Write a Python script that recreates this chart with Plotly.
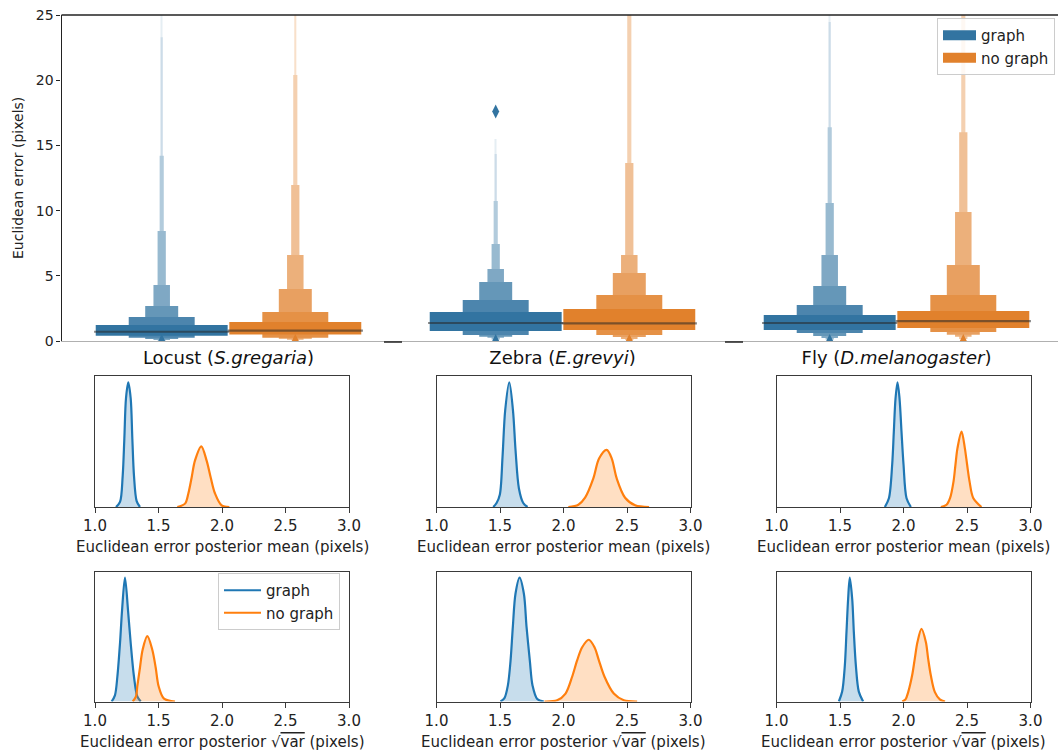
import plotly.graph_objects as go

W, H = 1058, 753
FONT = "DejaVu Sans"

# ---------------- data ----------------
categories = ["Locust", "Zebra", "Fly"]
category_labels = ["Locust (<i>S.gregaria</i>)", "Zebra (<i>E.grevyi</i>)",
                   "Fly (<i>D.melanogaster</i>)"]
hue_names = ["graph", "no graph"]
y_ticks = [0, 5, 10, 15, 20, 25]
kde_ticks = [1.0, 1.5, 2.0, 2.5, 3.0]
kde_tick_labels = ["1.0", "1.5", "2.0", "2.5", "3.0"]

# letter-value boxes, innermost level first (lower / upper bounds)
locust_graph_lower = [0.41, 0.25, 0.15, 0.08, 0.04, 0.02, 0.01, 0.005]
locust_graph_upper = [1.23, 1.84, 2.68, 4.29, 8.44, 14.2, 23.3, 32.0]
locust_graph_median = 0.71
locust_graph_outliers = [0.0]

locust_nograph_lower = [0.49, 0.25, 0.18, 0.10, 0.05, 0.03, 0.02]
locust_nograph_upper = [1.46, 2.22, 3.99, 6.6, 11.96, 20.4, 32.0]
locust_nograph_median = 0.79
locust_nograph_outliers = [0.0]

zebra_graph_lower = [0.77, 0.46, 0.33, 0.25, 0.12, 0.08, 0.05, 0.03]
zebra_graph_upper = [2.22, 3.14, 4.52, 5.52, 7.44, 10.74, 14.34, 15.5]
zebra_graph_median = 1.38
zebra_graph_outliers = [17.6, 0.0]

zebra_nograph_lower = [0.84, 0.46, 0.31, 0.15, 0.08, 0.04]
zebra_nograph_upper = [2.45, 3.53, 5.21, 6.6, 13.65, 32.0]
zebra_nograph_median = 1.35
zebra_nograph_outliers = [0.0]

fly_graph_lower = [0.84, 0.61, 0.38, 0.23, 0.12, 0.06, 0.03, 0.02]
fly_graph_upper = [1.99, 2.76, 4.22, 6.6, 10.58, 16.4, 24.46, 32.0]
fly_graph_median = 1.38
fly_graph_outliers = [0.0]

fly_nograph_lower = [1.0, 0.69, 0.48, 0.33, 0.15, 0.08]
fly_nograph_upper = [2.30, 3.53, 5.83, 9.89, 16.0, 32.0]
fly_nograph_median = 1.53
fly_nograph_outliers = [0.0]

# posterior KDE curves (x, density)
locust_mean_graph_x = [1.165, 1.197, 1.218, 1.231, 1.244, 1.262, 1.281, 1.294, 1.307, 1.328, 1.354]
locust_mean_graph_y = [0, 0.6, 3.7, 8.1, 12.9, 14.8, 12.9, 8.1, 3.7, 0.7, 0]
locust_mean_nograph_x = [1.648, 1.709, 1.735, 1.761, 1.787, 1.837, 1.879, 1.911, 1.945, 1.997, 2.058]
locust_mean_nograph_y = [0, 0.4, 1.6, 3.5, 5.5, 7.2, 5.5, 3.5, 1.6, 0.2, 0]

locust_var_graph_x = [1.131, 1.157, 1.176, 1.197, 1.213, 1.236, 1.260, 1.281, 1.307, 1.333, 1.360]
locust_var_graph_y = [0, 0.55, 2.2, 5.2, 8.1, 11.0, 8.1, 5.2, 2.2, 0.45, 0]
locust_var_nograph_x = [1.297, 1.323, 1.333, 1.354, 1.375, 1.412, 1.451, 1.478, 1.501, 1.543, 1.630]
locust_var_nograph_y = [0, 0.45, 1.35, 3.0, 4.6, 5.8, 4.6, 3.0, 1.35, 0.25, 0]

zebra_mean_graph_x = [1.447, 1.473, 1.499, 1.520, 1.541, 1.573, 1.602, 1.623, 1.649, 1.683, 1.717]
zebra_mean_graph_y = [0, 0.3, 0.95, 3.8, 7.3, 9.4, 7.3, 4.2, 1.4, 0.3, 0]
zebra_mean_nograph_x = [2.038, 2.117, 2.170, 2.235, 2.280, 2.340, 2.380, 2.419, 2.485, 2.564, 2.674]
zebra_mean_nograph_y = [0, 0.17, 0.7, 2.15, 3.65, 4.3, 3.65, 2.15, 0.7, 0.13, 0]

zebra_var_graph_x = [1.504, 1.535, 1.562, 1.583, 1.601, 1.622, 1.654, 1.688, 1.709, 1.735, 1.756, 1.793, 1.845]
zebra_var_graph_y = [0, 0.2, 0.95, 2.4, 4.4, 6.35, 7.3, 6.35, 4.4, 2.4, 0.95, 0.15, 0]
zebra_var_nograph_x = [1.850, 1.950, 2.016, 2.068, 2.108, 2.147, 2.199, 2.244, 2.278, 2.323, 2.396, 2.475, 2.580]
zebra_var_nograph_y = [0, 0.07, 0.47, 1.46, 2.44, 3.2, 3.64, 3.2, 2.44, 1.46, 0.47, 0.07, 0]

fly_mean_graph_x = [1.853, 1.885, 1.911, 1.924, 1.937, 1.953, 1.969, 1.984, 2.000, 2.024, 2.058]
fly_mean_graph_y = [0, 1.0, 4.9, 8.7, 12.4, 14.3, 12.4, 8.7, 4.9, 1.0, 0]
fly_mean_nograph_x = [2.294, 2.339, 2.367, 2.394, 2.409, 2.425, 2.457, 2.483, 2.501, 2.520, 2.549, 2.614]
fly_mean_nograph_y = [0, 0.26, 1.04, 2.94, 4.84, 6.75, 8.65, 6.75, 4.84, 2.94, 1.04, 0]

fly_var_graph_x = [1.491, 1.517, 1.538, 1.551, 1.564, 1.577, 1.596, 1.609, 1.625, 1.648, 1.682]
fly_var_graph_y = [0, 1.2, 4.35, 8.4, 12.45, 15, 12.45, 8.4, 4.35, 1.2, 0]
fly_var_nograph_x = [1.990, 2.016, 2.037, 2.068, 2.089, 2.110, 2.142, 2.176, 2.194, 2.215, 2.247, 2.286, 2.327]
fly_var_nograph_y = [0, 0.26, 1.14, 3.17, 5.2, 7.2, 8.8, 7.2, 5.2, 3.17, 1.14, 0.26, 0]

# ---------------- style ----------------
box_base = [(50, 116, 161), (225, 129, 44)]
line_colors = ["#1f77b4", "#ff7f0e"]
fill_colors = ["rgba(31,119,180,0.25)", "rgba(255,127,14,0.25)"]
HUE_OFFSET = 0.2
BOX_WIDTH = 0.395
N_SHADES = 8


def shade(rgb, k):
    t = k / N_SHADES
    r, g, b = [int(round(c + (255 - c) * t)) for c in rgb]
    return f"rgb({r},{g},{b})"


def px_x(p):
    return p / W


def px_y(p):
    return 1 - p / H


fig = go.Figure()

boxes = [
    (0, 0, locust_graph_lower, locust_graph_upper, locust_graph_median, locust_graph_outliers),
    (0, 1, locust_nograph_lower, locust_nograph_upper, locust_nograph_median, locust_nograph_outliers),
    (1, 0, zebra_graph_lower, zebra_graph_upper, zebra_graph_median, zebra_graph_outliers),
    (1, 1, zebra_nograph_lower, zebra_nograph_upper, zebra_nograph_median, zebra_nograph_outliers),
    (2, 0, fly_graph_lower, fly_graph_upper, fly_graph_median, fly_graph_outliers),
    (2, 1, fly_nograph_lower, fly_nograph_upper, fly_nograph_median, fly_nograph_outliers),
]

for ci, hi, lower, upper, med, outl in boxes:
    pos = ci + (HUE_OFFSET if hi else -HUE_OFFSET)
    n = len(lower)
    order = list(range(n))[::-1]  # outermost (narrow, light) first, innermost on top
    fig.add_trace(go.Bar(
        x=[pos] * n,
        base=[lower[k] for k in order],
        y=[upper[k] - lower[k] for k in order],
        width=[BOX_WIDTH / (2 ** k) for k in order],
        marker=dict(color=[shade(box_base[hi], k) for k in order], line=dict(width=0)),
        showlegend=False, hoverinfo="skip", xaxis="x", yaxis="y",
    ))

for ci, hi, lower, upper, med, outl in boxes:
    pos = ci + (HUE_OFFSET if hi else -HUE_OFFSET)
    fig.add_trace(go.Scatter(
        x=[pos - BOX_WIDTH / 2 - 0.005, pos + BOX_WIDTH / 2 + 0.005], y=[med, med],
        mode="lines", line=dict(color="rgba(40,40,40,0.55)", width=2.2),
        showlegend=False, hoverinfo="skip", xaxis="x", yaxis="y",
    ))
    fig.add_trace(go.Scatter(
        x=[pos] * len(outl), y=outl, mode="markers",
        marker=dict(symbol="diamond-tall", size=10, color="rgb(%d,%d,%d)" % box_base[hi]),
        showlegend=False, hoverinfo="skip", xaxis="x", yaxis="y",
    ))

# legend patches for the top plot
for hi, name in enumerate(hue_names):
    fig.add_trace(go.Scatter(
        x=[None], y=[None], mode="lines", name=name,
        line=dict(color="rgb(%d,%d,%d)" % box_base[hi], width=11),
        xaxis="x", yaxis="y", legend="legend",
    ))

# KDE panels
kde_panels = [
    (2, locust_mean_graph_x, locust_mean_graph_y, locust_mean_nograph_x, locust_mean_nograph_y),
    (3, zebra_mean_graph_x, zebra_mean_graph_y, zebra_mean_nograph_x, zebra_mean_nograph_y),
    (4, fly_mean_graph_x, fly_mean_graph_y, fly_mean_nograph_x, fly_mean_nograph_y),
    (5, locust_var_graph_x, locust_var_graph_y, locust_var_nograph_x, locust_var_nograph_y),
    (6, zebra_var_graph_x, zebra_var_graph_y, zebra_var_nograph_x, zebra_var_nograph_y),
    (7, fly_var_graph_x, fly_var_graph_y, fly_var_nograph_x, fly_var_nograph_y),
]
kde_ymax = {}
for idx, gx, gy, nx, ny in kde_panels:
    kde_ymax[idx] = max(max(gy), max(ny)) * 1.05
    for hi, (xs, ys) in enumerate([(gx, gy), (nx, ny)]):
        fig.add_trace(go.Scatter(
            x=xs, y=ys, mode="lines", line=dict(color=line_colors[hi], width=2.2, shape="spline", smoothing=0.9),
            fill="tozeroy", fillcolor=fill_colors[hi], name=hue_names[hi], showlegend=False,
            xaxis=f"x{idx}", yaxis=f"y{idx}", hoverinfo="skip",
        ))

# line-only legend entries for the lower-left panel
for hi, name in enumerate(hue_names):
    fig.add_trace(go.Scatter(
        x=[None], y=[None], mode="lines", name=name,
        line=dict(color=line_colors[hi], width=2.2),
        xaxis="x5", yaxis="y5", legend="legend2",
    ))

# ---------------- layout ----------------
TOP = dict(x0=61.5, x1=1058, y0=15, y1=341)
COLS = [(95, 349), (436.5, 690.5), (776.5, 1030.5)]
ROWS = [(376, 507), (571.5, 701.5)]
axis_col = "#3a3a3a"
tick_font = dict(family=FONT, size=15, color="#222")

layout = dict(
    template="none",
    width=W, height=H, margin=dict(l=0, r=0, t=0, b=0, pad=0), autosize=False,
    paper_bgcolor="white", plot_bgcolor="rgba(0,0,0,0)",
    barmode="overlay", font=dict(family=FONT, color="#222"),
    xaxis=dict(domain=[px_x(TOP["x0"]), px_x(TOP["x1"])], range=[-0.5, (TOP["x1"] - TOP["x0"]) / 334 - 0.5],
               tickvals=[0, 1, 2], ticktext=category_labels, ticks="", showgrid=False, zeroline=False,
               showline=True, linecolor="#b0b0b0", linewidth=1.3, automargin=False,
               tickfont=dict(family=FONT, size=18, color="#111"), anchor="y"),
    yaxis=dict(domain=[px_y(TOP["y1"]), px_y(TOP["y0"])], range=[0, 25], tickvals=y_ticks,
               ticks="outside", ticklen=4, tickcolor="#222", showgrid=False, zeroline=False,
               showline=True, linecolor="#222", linewidth=1.2, automargin=False,
               tickfont=dict(family=FONT, size=14, color="#222"), anchor="x"),
    legend=dict(x=px_x(937), y=px_y(18), xanchor="left", yanchor="top",
                bgcolor="rgba(255,255,255,0.85)", bordercolor="#cccccc", borderwidth=1,
                font=dict(family=FONT, size=15, color="#222"), itemwidth=33,
                tracegroupgap=0),
    legend2=dict(x=px_x(218), y=px_y(573), xanchor="left", yanchor="top",
                 bgcolor="rgba(255,255,255,0.85)", bordercolor="#cccccc", borderwidth=1,
                 font=dict(family=FONT, size=15, color="#222"), itemwidth=37),
)

for idx in range(2, 8):
    r = 0 if idx <= 4 else 1
    c = (idx - 2) % 3
    x0, x1 = COLS[c]
    y0, y1 = ROWS[r]
    layout[f"xaxis{idx}"] = dict(
        domain=[px_x(x0), px_x(x1)], range=[1, 3], tickvals=kde_ticks, ticktext=kde_tick_labels,
        ticks="outside", ticklen=5, tickcolor=axis_col, showgrid=False, zeroline=False,
        showline=True, mirror=True, linecolor=axis_col, linewidth=1.2, tickfont=tick_font,
        automargin=False, anchor=f"y{idx}")
    layout[f"yaxis{idx}"] = dict(
        domain=[px_y(y1), px_y(y0)], range=[0, kde_ymax[idx]], showticklabels=False, ticks="",
        showgrid=False, zeroline=False, showline=True, mirror=True, linecolor=axis_col,
        linewidth=1.2, automargin=False, anchor=f"x{idx}")

fig.update_layout(**layout)

# top spine and stray bottom dashes
fig.add_shape(type="line", xref="x domain", yref="y domain", x0=0, x1=1, y0=1, y1=1,
              line=dict(color="#222", width=1.3))
for a, b in [(384, 402), (725, 743)]:
    fig.add_shape(type="line", xref="paper", yref="paper", x0=px_x(a), x1=px_x(b),
                  y0=px_y(342), y1=px_y(342), line=dict(color="#222", width=1.5))

# axis labels
fig.add_annotation(text="Euclidean error (pixels)", xref="paper", yref="paper",
                   x=px_x(18), y=px_y(178), textangle=-90, showarrow=False,
                   xanchor="center", yanchor="middle",
                   font=dict(family=FONT, size=14, color="#222"))
labels = ["Euclidean error posterior mean (pixels)",
          "Euclidean error posterior √<span style='text-decoration:overline'>var</span> (pixels)"]
for r, (lab, ypx) in enumerate(zip(labels, [547, 742])):
    for c in range(3):
        fig.add_annotation(text=lab, xref="paper", yref="paper",
                           x=px_x((COLS[c][0] + COLS[c][1]) / 2), y=px_y(ypx),
                           xanchor="center", yanchor="middle",
                           showarrow=False, font=dict(family=FONT, size=15, color="#222"))

fig.write_html("out.html", config={"displayModeBar": False},
               post_script="document.body.style.margin='0px';")
